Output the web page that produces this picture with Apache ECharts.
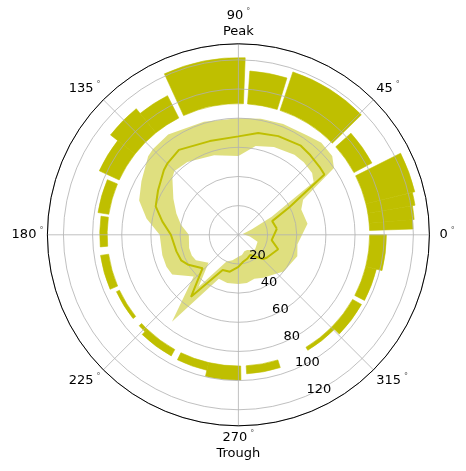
<!DOCTYPE html>
<html><head><meta charset="utf-8">
<script src="https://cdn.jsdelivr.net/npm/echarts@6/dist/echarts.min.js"></script>
<style>html,body{margin:0;padding:0;background:#fff}#c{width:466px;height:471px}</style>
</head><body><div id="c"></div>
<script>
// ---- data ----
const angleTicks = [0, 45, 90, 135, 180, 225, 270, 315];
const angleNames = ['', '', 'Peak', '', '', '', 'Trough', ''];
const radiusTicks = [20, 40, 60, 80, 100, 120];
const R_MAX = 131;
const BAR_BOTTOM = 90;
// outer ring of bars (degrees, counter-clockwise from east) and their top radius
const barStart = [1.9, 5, 9.5, 13.7, 28.3, 44.3, 72.8, 87.8, 117, 129, 142, 157.2, 172.3, 188.5, 205, 222.5, 226, 244, 256.9, 273.4, 301, 315.5, 332.5, 346];
const barEnd   = [5, 9.5, 13.7, 26.7, 42.1, 71.5, 86, 114.7, 129, 142, 155.3, 171, 185, 203, 218.5, 226, 241, 256.9, 271, 287.5, 315.5, 330.5, 346, 360];
const barTop   = [119.8, 121, 122.8, 124.5, 104, 117.8, 112.6, 121.5, 107.1, 111.3, 105, 97.5, 95.1, 95.6, 92.3, 92.3, 95, 95.4, 99.6, 95.5, 92.4, 97, 97.5, 101.5];
// inner curve: phase (deg), mean, lower and upper band
const phaseTheta = [9, 22, 28.5, 35, 40, 48, 55, 68, 79, 90, 107, 125, 135, 139, 151, 161, 170, 180, 195, 204, 211, 223, 232.6, 246, 257, 270, 280, 290, 300, 315.5, 321, 340, 351, 369];
const phaseMean  = [26.7, 25, 40, 72, 72.6, 73.6, 74.6, 73, 71.2, 67.5, 67.2, 71.1, 69, 67.7, 63, 60, 53, 46.3, 44, 43, 40, 33.6, 53.5, 26.5, 26, 22, 18.8, 17.5, 16, 23.7, 25, 29, 23.1, 26.7];
const phaseLow   = [3, 10, 26, 63, 66, 67, 67, 65, 62, 54, 57, 61, 62, 60, 51, 45, 40, 34, 35, 35, 34, 28, 45, 20, 18, 15, 14, 12, 12, 15, 15, 14, 8, 3];
const phaseHigh  = [48, 46.5, 50.5, 80, 84, 85, 83, 82, 81, 80, 81, 84, 83, 82, 76, 72, 64, 54, 54, 54, 53, 42, 75, 33, 34, 33.8, 33.5, 32, 34, 37.7, 40, 43, 41, 48];

// ---- build ----
const COLOR = '#bfbf00';
const FONT = 'DejaVu Sans';
const barData = barStart.map((s, i) => [s, barEnd[i], barTop[i]]);
const bandData = phaseTheta.map((t, i) => [t, phaseLow[i], phaseHigh[i]]);
const lineData = phaseTheta.map((t, i) => [phaseMean[i], t]);

function screenRadius(api, cs, v) {
  const p = api.coord([v, 0]);
  return Math.hypot(p[0] - cs.cx, p[1] - cs.cy);
}
function screenAngle(api, cs, v, t) {
  const p = api.coord([v, t]);
  return Math.atan2(p[1] - cs.cy, p[0] - cs.cx);
}
function renderBar(params, api) {
  const cs = params.coordSys;
  const t1 = api.value(0), t2 = api.value(1), top = api.value(2);
  const r0 = screenRadius(api, cs, BAR_BOTTOM);
  const r1 = screenRadius(api, cs, top);
  let s = screenAngle(api, cs, top, t2);
  let e = screenAngle(api, cs, top, t1);
  while (e < s) e += Math.PI * 2;
  return {
    type: 'sector',
    shape: { cx: cs.cx, cy: cs.cy, r0: r0, r: r1, startAngle: s, endAngle: e, clockwise: true },
    style: { fill: COLOR, stroke: COLOR, lineWidth: 0.6 }
  };
}
function renderBand(params, api) {
  if (params.dataIndexInside !== 0) return null;
  const n = params.dataInsideLength;
  const up = [], dn = [];
  for (let i = 0; i < n; i++) {
    const t = api.value(0, i), lo = api.value(1, i), hi = api.value(2, i);
    up.push(api.coord([hi, t]));
    dn.push(api.coord([lo, t]));
  }
  return {
    type: 'polygon',
    shape: { points: up.concat(dn.reverse()) },
    style: { fill: 'rgba(191,191,0,0.5)' }
  };
}

const chart = echarts.init(document.getElementById('c'), null, { renderer: 'canvas' });
chart.setOption({
  animation: false,
  backgroundColor: '#fff',
  polar: [
    { center: [238.4, 234.8], radius: 191 },
    { center: [237.8, 229.0], radius: 191 }
  ],
  angleAxis: [
    {
      polarIndex: 0, type: 'value', min: 0, max: 360, interval: 45,
      startAngle: 0, clockwise: false, z: 4,
      axisLine: { show: true, lineStyle: { color: '#000', width: 1 } },
      axisTick: { show: false },
      splitLine: { show: true, lineStyle: { color: '#b0b0b0', width: 0.8 } },
      axisLabel: {
        margin: 4,
        formatter: function (v) {
          const i = angleTicks.indexOf(v);
          if (i < 0) return '';
          const n = (v === 0) ? 'z' : 'n';
          let s = '{' + n + '|' + v + '}{d|°}';
          if (angleNames[i]) s += '\n{n|' + angleNames[i] + '}';
          return s;
        },
        rich: {
          n: { fontFamily: FONT, fontSize: 13, color: '#000', lineHeight: 16, align: 'center' },
          z: { fontFamily: FONT, fontSize: 13, color: '#000', lineHeight: 16, padding: [0, 0, 0, 6] },
          d: { fontFamily: FONT, fontSize: 8, color: '#555', verticalAlign: 'top', padding: [0, 0, 0, 3], lineHeight: 16 }
        }
      }
    },
    { polarIndex: 1, type: 'value', min: 0, max: 360, startAngle: -66.9, clockwise: false, show: false }
  ],
  radiusAxis: [
    {
      polarIndex: 0, type: 'value', min: 0, max: R_MAX, interval: 20, z: 3,
      axisLine: { show: false }, axisTick: { show: false }, axisLabel: { show: false },
      splitLine: { show: true, lineStyle: { color: '#b0b0b0', width: 0.8 } }
    },
    {
      polarIndex: 1, type: 'value', min: 0, max: R_MAX, interval: 20, z: 10,
      axisLine: { show: false }, axisTick: { show: false }, splitLine: { show: false },
      axisLabel: {
        margin: 0, align: 'left', verticalAlign: 'middle',
        fontFamily: FONT, fontSize: 13, color: '#000',
        formatter: function (v) { return radiusTicks.indexOf(v) >= 0 ? String(v) : ''; }
      }
    }
  ],
  series: [
    {
      type: 'custom', coordinateSystem: 'polar', polarIndex: 0, z: 2,
      renderItem: renderBar, data: barData, encode: { angle: 0, radius: 2 }, silent: true
    },
    {
      type: 'custom', coordinateSystem: 'polar', polarIndex: 0, z: 2,
      renderItem: renderBand, data: bandData, encode: { angle: 0, radius: 2 }, silent: true
    },
    {
      type: 'line', coordinateSystem: 'polar', polarIndex: 0, z: 5,
      data: lineData, symbol: 'none', lineStyle: { color: COLOR, width: 2 }, silent: true
    }
  ]
});
</script></body></html>
